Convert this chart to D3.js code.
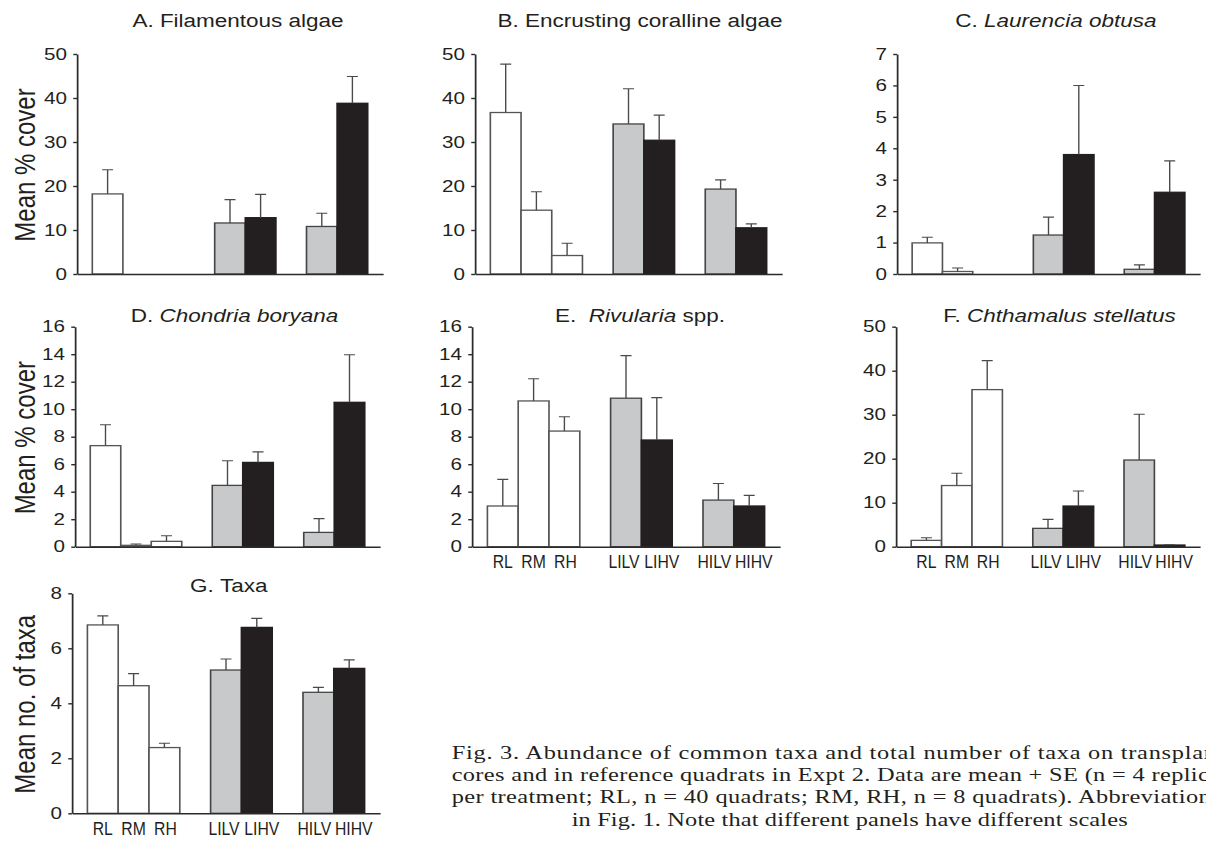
<!DOCTYPE html>
<meta charset="utf-8">
<style type="text/css">
    body { margin: 0; background: #fff; }

    /* the original figure is stretched sideways, so draw in a narrower box and let it stretch */
    svg { display: block; }

    .bar { stroke-width: 1.3; }
    .err { fill: none; stroke: #4a4a4a; stroke-width: 1.1; }

    .axis path, .axis line { stroke: #2b2b2b; stroke-width: 1.4; }
    .yaxis text {
        font-family: "Liberation Sans", Arial, sans-serif;
        font-size: 16.5px;
        fill: #231f20;
    }
    .xaxis text {
        font-family: "Liberation Sans", Arial, sans-serif;
        font-size: 18px;
        fill: #231f20;
    }
    .title {
        font-family: "Liberation Sans", Arial, sans-serif;
        font-size: 18px;
        fill: #231f20;
    }
    .ylabel {
        font-family: "Liberation Sans", Arial, sans-serif;
        font-size: 24px;
        fill: #231f20;
    }
    .caption {
        font-family: "Liberation Serif", "Times New Roman", serif;
        font-size: 19.5px;
        fill: #231f20;
    }
</style>
<body>

<script src="https://d3js.org/d3.v7.min.js"></script>
<script>

// treatments in plotting order, plus two empty slots between the groups
var treatments = ["RL", "RM", "RH", "LILV", "LIHV", "HILV", "HIHV"];
var slots = ["RL", "RM", "RH", "gap1", "LILV", "LIHV", "gap2", "HILV", "HIHV"];
var fills = {RL: "#ffffff", RM: "#ffffff", RH: "#ffffff",
             LILV: "#c8c9cb", LIHV: "#231f20", HILV: "#c8c9cb", HIHV: "#231f20"};
var outlines = {RL: "#555555", RM: "#555555", RH: "#555555",
                LILV: "#444444", LIHV: "#231f20", HILV: "#444444", HIHV: "#231f20"};
// the category labels sit a little apart within each pair (screen px)
var labelNudge = {RL: 0, RM: 0, RH: 1, LILV: -2, LIHV: 5, HILV: -4, HIHV: 4.5};

// means and standard errors
var filamentousMean = [18.2, 0, 0, 11.6, 12.8, 10.8, 38.8];
var filamentousSE   = [5.5, 0, 0, 5.3, 5.3, 3.0, 6.1];

var corallineMean = [36.7, 14.5, 4.2, 34.1, 30.4, 19.3, 10.5];
var corallineSE   = [11.0, 4.2, 2.8, 8.0, 5.7, 2.1, 0.9];

var laurenciaMean = [0.99, 0.08, 0, 1.24, 3.8, 0.15, 2.6];
var laurenciaSE   = [0.18, 0.11, 0, 0.57, 2.2, 0.14, 1.0];

var chondriaMean = [7.35, 0.1, 0.39, 4.46, 6.13, 1.04, 10.5];
var chondriaSE   = [1.52, 0.1, 0.41, 1.79, 0.77, 1.0, 3.46];

var rivulariaMean = [2.96, 10.6, 8.41, 10.8, 7.76, 3.39, 2.96];
var rivulariaSE   = [1.94, 1.62, 1.04, 3.1, 3.08, 1.21, 0.77];

var chthamalusMean = [1.44, 13.9, 35.7, 4.17, 9.24, 19.7, 0.38];
var chthamalusSE   = [0.61, 2.8, 6.6, 2.03, 3.41, 10.4, 0.07];

var taxaMean = [6.85, 4.64, 2.39, 5.21, 6.76, 4.4, 5.27];
var taxaSE   = [0.33, 0.44, 0.16, 0.4, 0.33, 0.18, 0.31];

var captionLines = [
    "Fig. 3. Abundance of common taxa and total number of taxa on transplanted",
    "cores and in reference quadrats in Expt 2. Data are mean + SE (n = 4 replicates",
    "per treatment; RL, n = 40 quadrats; RM, RH, n = 8 quadrats). Abbreviations as",
    "in Fig. 1. Note that different panels have different scales"
];

// panel layout in screen pixels (x values get divided by SX below)
var panels = [
  {letter: "A.", name: "Filamentous algae", italic: false, mean: filamentousMean, se: filamentousSE,
   ymax: 50, step: 10, x0: 77, x1: 383, y0: 274, y1: 54, tx: 238, ty: 27, ylabel: "Mean % cover", labels: false},
  {letter: "B.", name: "Encrusting coralline algae", italic: false, mean: corallineMean, se: corallineSE,
   ymax: 50, step: 10, x0: 475, x1: 782, y0: 274, y1: 54, tx: 640, ty: 27, labels: false},
  {letter: "C.", name: "Laurencia obtusa", italic: true, mean: laurenciaMean, se: laurenciaSE,
   ymax: 7, step: 1, x0: 897, x1: 1200, y0: 274, y1: 54, tx: 1056, ty: 27, labels: false},
  {letter: "D.", name: "Chondria boryana", italic: true, mean: chondriaMean, se: chondriaSE,
   ymax: 16, step: 2, x0: 75, x1: 380, y0: 546.7, y1: 326.7, tx: 234.5, ty: 321.7, ylabel: "Mean % cover", labels: false},
  {letter: "E.\u00a0", name: "Rivularia", after: " spp.", italic: true, mean: rivulariaMean, se: rivulariaSE,
   ymax: 16, step: 2, x0: 472, x1: 780, y0: 546.7, y1: 326.7, tx: 640, ty: 321.7, labels: true},
  {letter: "F.", name: "Chthamalus stellatus", italic: true, mean: chthamalusMean, se: chthamalusSE,
   ymax: 50, step: 10, x0: 896, x1: 1200, y0: 546.7, y1: 326.7, tx: 1059.5, ty: 321.7, labels: true},
  {letter: "G.", name: "Taxa", italic: false, mean: taxaMean, se: taxaSE,
   ymax: 8, step: 2, x0: 72, x1: 380, y0: 813.3, y1: 593.3, tx: 228.7, ty: 592, ylabel: "Mean no. of taxa", labels: true}
];

var W = 1206, H = 841, SX = 1.25;
function sx(v) { return v / SX; }

var svg = d3.select("body").append("svg")
    .attr("width", W)
    .attr("height", H)
    .attr("viewBox", "0 0 " + (W / SX) + " " + H)
    .attr("preserveAspectRatio", "none");

panels.forEach(function(p) {
    var g = svg.append("g");

    var x = d3.scaleBand()
        .domain(slots)
        .range([sx(p.x0), sx(p.x1)])
        .paddingInner(0)
        .paddingOuter(0.5);

    var y = d3.scaleLinear()
        .domain([0, p.ymax])
        .range([p.y0, p.y1]);

    var rows = treatments.map(function(t, i) {
        return {t: t, mean: p.mean[i], se: p.se[i]};
    });

    // bars
    g.selectAll(".bar")
        .data(rows.filter(function(d) { return d.mean > 0; }))
      .enter().append("rect")
        .attr("class", "bar")
        .attr("x", function(d) { return x(d.t); })
        .attr("width", x.bandwidth())
        .attr("y", function(d) { return y(d.mean); })
        .attr("height", function(d) { return y(0) - y(d.mean); })
        .style("fill", function(d) { return fills[d.t]; })
        .style("stroke", function(d) { return outlines[d.t]; });

    // error bars (mean + SE only)
    var cap = 4.4;
    g.selectAll(".err")
        .data(rows.filter(function(d) { return d.se > 0; }))
      .enter().append("path")
        .attr("class", "err")
        .attr("d", function(d) {
            var cx = x(d.t) + x.bandwidth() / 2;
            return "M" + cx + "," + y(d.mean) + "V" + y(d.mean + d.se) +
                   "M" + (cx - cap) + "," + y(d.mean + d.se) + "H" + (cx + cap);
        });

    // y axis
    g.append("g")
        .attr("class", "axis yaxis")
        .attr("transform", "translate(" + sx(p.x0) + ",0)")
        .call(d3.axisLeft(y)
            .tickValues(d3.range(0, p.ymax + p.step / 2, p.step))
            .tickFormat(d3.format("d"))
            .tickSize(3)
            .tickSizeOuter(0)
            .tickPadding(5));

    // x axis, labels only on the bottom panels (condensed lettering)
    var xAxis = d3.axisBottom(x).tickSize(0).tickSizeOuter(0).tickPadding(9);
    xAxis.tickValues(p.labels ? treatments : []);
    var gx = g.append("g")
        .attr("class", "axis xaxis")
        .attr("transform", "translate(0," + p.y0 + ")")
        .call(xAxis);
    gx.selectAll("text")
        .attr("dy", "0.71em")
        .attr("transform", function(d) {
            return "translate(" + sx(labelNudge[d]) + ",0) scale(0.7,1)";
        });

    // panel title
    var title = g.append("text")
        .attr("class", "title")
        .attr("x", sx(p.tx))
        .attr("y", p.ty)
        .attr("text-anchor", "middle");
    title.append("tspan").text(p.letter + " ");
    title.append("tspan")
        .style("font-style", p.italic ? "italic" : "normal")
        .text(p.name);
    if (p.after) title.append("tspan").text(p.after);

    // y axis label
    if (p.ylabel) {
        g.append("text")
            .attr("class", "ylabel")
            .attr("transform", "translate(" + sx(34.5) + "," + ((p.y0 + p.y1) / 2 + 1) + ") rotate(-90)")
            .attr("text-anchor", "middle")
            .text(p.ylabel);
    }
});

// caption, justified between two edges (the right edge runs past the page, as in the original)
var capLeft = 451.7, capRight = 1248, capBase = [759, 781.5, 803.5, 826.5];
captionLines.forEach(function(line, i) {
    var last = i === captionLines.length - 1;
    var t = svg.append("text")
        .attr("class", "caption")
        .attr("y", capBase[i])
        .text(line);
    if (last) {
        t.attr("x", sx(571.7)).attr("textLength", sx(1127.7) - sx(571.7))
         .attr("lengthAdjust", "spacing");
    } else {
        t.attr("x", sx(capLeft)).attr("textLength", sx(capRight) - sx(capLeft))
         .attr("lengthAdjust", "spacing");
    }
});

</script>
</body>
